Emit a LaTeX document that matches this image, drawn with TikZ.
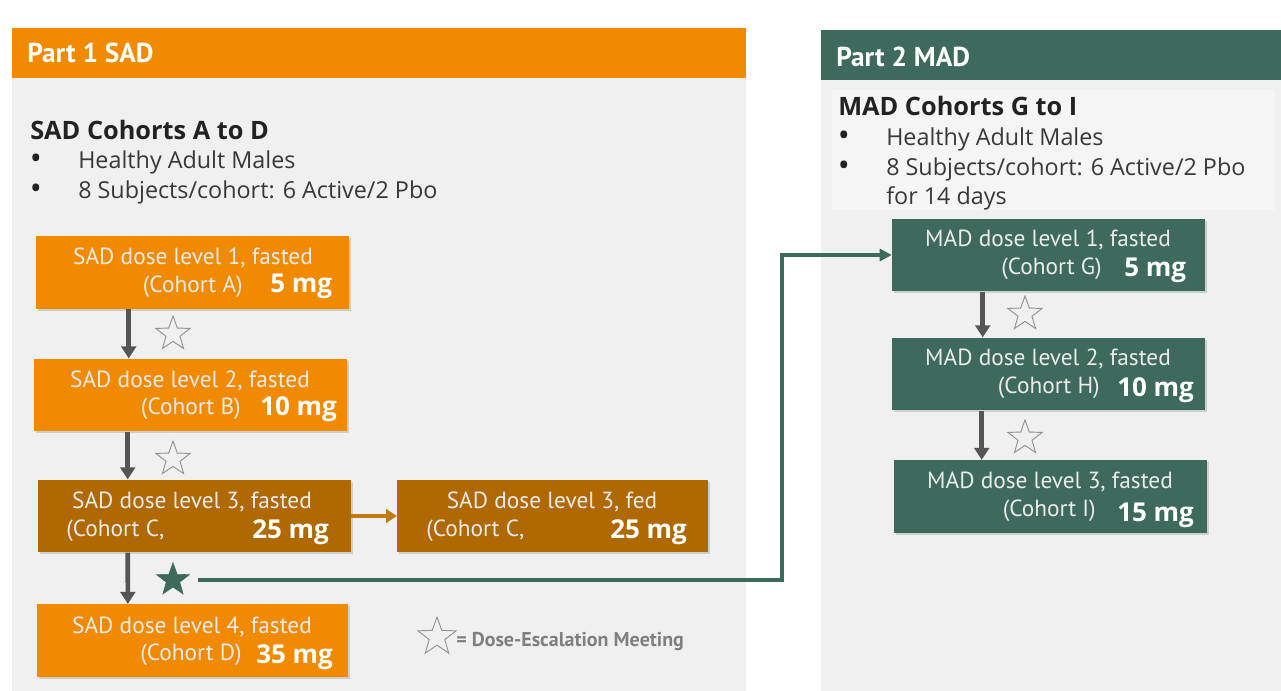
\documentclass[tikz,border=0pt]{standalone}
\usepackage{fontspec}
\setmainfont{Open Sans}
\newfontfamily\boxfont{PT Sans}
\usetikzlibrary{shapes.geometric,shadows,arrows.meta,calc}

\definecolor{sadorange}{HTML}{F28A00}
\definecolor{sadbrown}{HTML}{B06800}
\definecolor{fedarrowc}{HTML}{C27A14}
\definecolor{madgreen}{HTML}{3D6A5C}
\definecolor{panelgray}{HTML}{F0F0F0}
\definecolor{innergray}{HTML}{F5F5F5}
\definecolor{arrowgray}{HTML}{555555}
\definecolor{textdark}{HTML}{222222}

\tikzset{
  dosebox/.style={minimum width=234.75pt,minimum height=54.5pt,inner sep=0pt,
    drop shadow={opacity=0.3,shadow xshift=1.5pt,shadow yshift=-1.5pt}},
  sadbox/.style={dosebox,fill=sadorange},
  fedbox/.style={dosebox,fill=sadbrown},
  madbox/.style={dosebox,fill=madgreen},
  linetxt/.style={text=white!92!black,font=\boxfont\fontsize{17.5}{20}\selectfont,inner sep=0pt},
  mgtxt/.style={text=white,font=\bfseries\fontsize{19.5}{22}\selectfont,inner sep=0pt,anchor=west},
  headtxt/.style={text=white,font=\boxfont\bfseries\fontsize{20.5}{24}\selectfont,anchor=west,inner sep=0pt},
  titletxt/.style={text=textdark,font=\bfseries\fontsize{19}{22}\selectfont,anchor=west,inner sep=0pt},
  bullettxt/.style={text=textdark!90!white,font=\fontsize{17.5}{20}\selectfont,anchor=west,inner sep=0pt},
  bulletdot/.style={text=textdark,font=\fontsize{24}{26}\selectfont,inner sep=0pt},
  escstar/.style={star,star points=5,star point ratio=2.45,draw=gray!85,line width=0.7pt,minimum size=27pt,inner sep=0pt},
  keystar/.style={star,star points=5,star point ratio=2.45,fill=madgreen,draw=madgreen,minimum size=26pt,inner sep=0pt},
  downarrow/.style={draw=arrowgray,line width=3.5pt,-{Triangle[width=11pt,length=9pt]}},
  fedarrow/.style={draw=fedarrowc,line width=3pt,-{Triangle[width=10pt,length=8pt]}},
  greenline/.style={draw=madgreen,line width=2.3pt,-{Triangle[width=9pt,length=9pt]}}
}

\begin{document}
\begin{tikzpicture}[x=0.75pt,y=-0.75pt]
  \useasboundingbox (0,0) rectangle (1281,691);
  \fill[white] (0,0) rectangle (1281,691);
  % the two panels
  \fill[panelgray] (12,28) rectangle (746,691);
  \fill[sadorange] (12,28) rectangle (746,78);
  \fill[panelgray] (821,30) rectangle (1281,691);
  \fill[madgreen] (821,30) rectangle (1281,80);
  \fill[innergray] (832,90) rectangle (1275,210);
  \node[headtxt] (sadhead) at (27,53) {Part 1 SAD};
  \node[headtxt] (madhead) at (836,57) {Part 2 MAD};
  % cohort notes
  \node[titletxt] (sadtitle) at (30,130) {SAD Cohorts A to D};
  \node[bulletdot] (sadb1) at (36,162) {\textbullet};
  \node[bullettxt] (sadt1) at (78,162) {Healthy Adult Males};
  \node[bulletdot] (sadb2) at (36,192) {\textbullet};
  \node[bullettxt] (sadt2) at (78,192) {8 Subjects/cohort: 6 Active/2 Pbo};
  \node[titletxt] (madtitle) at (838,106) {MAD Cohorts G to I};
  \node[bulletdot] (madb1) at (844,139) {\textbullet};
  \node[bullettxt] (madt1) at (886,139) {Healthy Adult Males};
  \node[bulletdot] (madb2) at (844,169) {\textbullet};
  \node[bullettxt] (madt2) at (886,169) {8 Subjects/cohort: 6 Active/2 Pbo};
  \node[bullettxt] (madt3) at (886,198) {for 14 days};
  % SAD boxes
  \node[sadbox] (sad1) at (192.5,272.5) {};
  \node[linetxt] (sad1a) at (193,258) {SAD dose level 1, fasted};
  \node[linetxt,anchor=east] (sad1b) at (243,287) {(Cohort A)};
  \node[mgtxt] (sad1c) at (270,286) {5 mg};
  \node[sadbox] (sad2) at (190.5,395) {};
  \node[linetxt] (sad2a) at (190,381) {SAD dose level 2, fasted};
  \node[linetxt,anchor=east] (sad2b) at (241,409) {(Cohort B)};
  \node[mgtxt] (sad2c) at (260,409) {10 mg};
  \node[fedbox] (sad3) at (194.5,516) {};
  \node[linetxt] (sad3a) at (192,502) {SAD dose level 3, fasted};
  \node[linetxt,anchor=west] (sad3b) at (66,531) {(Cohort C,};
  \node[mgtxt] (sad3c) at (252,532) {25 mg};
  \node[fedbox,minimum width=233pt] (fed) at (552.5,516) {};
  \node[linetxt] (feda) at (552,502) {SAD dose level 3, fed};
  \node[linetxt,anchor=west] (fedb) at (426,531) {(Cohort C,};
  \node[mgtxt] (fedc) at (610,532) {25 mg};
  \node[sadbox,minimum width=233pt] (sad4) at (192.5,640.5) {};
  \node[linetxt] (sad4a) at (192,627) {SAD dose level 4, fasted};
  \node[linetxt,anchor=east] (sad4b) at (242,655) {(Cohort D)};
  \node[mgtxt] (sad4c) at (256,657) {35 mg};
  % MAD boxes
  \node[madbox] (mad1) at (1048.5,255) {};
  \node[linetxt] (mad1a) at (1048,240) {MAD dose level 1, fasted};
  \node[linetxt,anchor=east] (mad1b) at (1102,269) {(Cohort G)};
  \node[mgtxt] (mad1c) at (1124,270) {5 mg};
  \node[madbox] (mad2) at (1048.5,374) {};
  \node[linetxt] (mad2a) at (1048,359) {MAD dose level 2, fasted};
  \node[linetxt,anchor=east] (mad2b) at (1100,388) {(Cohort H)};
  \node[mgtxt] (mad2c) at (1117,390) {10 mg};
  \node[madbox] (mad3) at (1050.5,496.5) {};
  \node[linetxt] (mad3a) at (1050,482) {MAD dose level 3, fasted};
  \node[linetxt,anchor=east] (mad3b) at (1096,511) {(Cohort I)};
  \node[mgtxt] (mad3c) at (1117,515) {15 mg};
  % escalation steps
  \draw[downarrow] ($(sad1.south west)+(93,0)$) -- ($(sad2.north west)+(95,0)$);
  \node[escstar] (st1) at (173,334) {};
  \draw[downarrow] ($(sad2.south west)+(94,0)$) -- ($(sad3.north west)+(90,0)$);
  \node[escstar] (st2) at (173,459) {};
  \draw[downarrow] ($(sad3.south west)+(90,0)$) -- ($(sad4.north west)+(91,0)$);
  \node[keystar] (stC) at (173,580) {};
  \draw[fedarrow] (sad3.east) -- (fed.west);
  \draw[downarrow] ($(mad1.south west)+(91,0)$) -- ($(mad2.north west)+(91,0)$);
  \node[escstar] (st3) at (1025,314) {};
  \draw[downarrow] ($(mad2.south west)+(90,0)$) -- ($(mad3.north west)+(88,0)$);
  \node[escstar] (st4) at (1025,438) {};
  % link to MAD
  \coordinate (turn) at (782,580);
  \draw[greenline,shorten <=11pt] (stC.east) -- (turn) |- (mad1.west);
  % legend
  \node[escstar,minimum size=30pt] (legstar) at (437,637) {};
  \node[anchor=west,inner sep=0pt,text=gray,font=\boxfont\bfseries\fontsize{15}{18}\selectfont] (legtxt) at (456,642) {= Dose-Escalation Meeting};
\end{tikzpicture}
\end{document}
